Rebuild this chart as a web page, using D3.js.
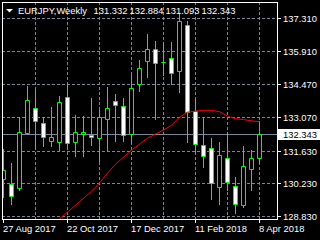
<!DOCTYPE html>
<html>
<head>
<meta charset="utf-8">
<title>EURJPY,Weekly</title>
<script src="https://d3js.org/d3.v7.min.js"></script>
<style>
  html, body { margin: 0; padding: 0; background: #000; overflow: hidden; }
  svg { display: block; }
  text { font-family: "Liberation Sans", Arial, sans-serif; font-size: 9.4px; fill: #fff; }
</style>
</head>
<body>
<svg width="320" height="240"></svg>
<script>

// weekly bars, EURJPY
var weeks = ["2017-08-27","2017-09-03","2017-09-10","2017-09-17","2017-09-24","2017-10-01","2017-10-08",
  "2017-10-15","2017-10-22","2017-10-29","2017-11-05","2017-11-12","2017-11-19","2017-11-26","2017-12-03",
  "2017-12-10","2017-12-17","2017-12-24","2017-12-31","2018-01-07","2018-01-14","2018-01-21","2018-01-28",
  "2018-02-04","2018-02-11","2018-02-18","2018-02-25","2018-03-04","2018-03-11","2018-03-18","2018-03-25",
  "2018-04-01","2018-04-08"];

var opens  = [130.415,130.21,130.01,132.385,133.46,132.81,132.04,131.98,133.93,131.98,132.36,132.31,132.15,132.98,133.76,133.54,
              132.34,134.50,135.45,135.98,135.43,135.60,135.02,137.01,133.31,131.87,131.74,130.07,131.31,130.115,129.30,130.84,131.332];
var highs  = [131.70,131.10,133.07,134.41,134.24,133.07,133.50,133.98,134.50,133.16,133.13,133.88,133.38,134.355,134.06,133.88,
              134.91,135.52,136.64,136.34,136.30,136.28,137.52,137.18,133.84,133.07,132.18,131.99,132.43,130.50,131.84,131.67,132.884];
var lows   = [129.64,129.33,129.93,132.35,131.73,131.81,131.84,131.64,131.73,131.41,131.38,131.87,131.17,131.67,132.04,132.03,
              132.00,134.17,134.77,133.00,134.88,134.50,134.12,131.98,131.53,130.93,129.56,129.34,129.96,128.96,129.22,129.96,131.093];
var closes = [130.81,129.67,132.43,133.80,132.90,132.21,132.21,133.73,131.96,132.43,132.44,132.21,133.07,133.46,133.58,132.30,
              134.31,135.17,135.98,135.38,135.43,134.95,137.18,133.28,131.91,131.40,130.24,131.44,130.27,129.36,130.985,131.31,132.343];

// red moving average (null where it is not drawn)
var ma = [null,null,null,null,null,null,128.42,128.72,129.02,129.31,129.61,129.91,130.26,130.69,131.07,131.37,
          131.67,131.93,132.18,132.36,132.53,132.74,133.08,133.30,133.34,133.38,133.38,133.32,133.13,133.02,132.98,132.93,132.88];

var priceTicks = [137.310, 135.910, 134.470, 133.070, 131.630, 130.230, 128.830];
var timeLabels = ["2017-08-27","2017-10-22","2017-12-17","2018-02-11","2018-04-08"];
var gridWeeks = ["2017-09-24","2017-10-22","2017-11-19","2017-12-17","2018-01-14","2018-02-11","2018-03-11","2018-04-08"];

var parse = d3.timeParse("%Y-%m-%d");
var fmtDate = d3.timeFormat("%-d %b %Y");

var bars = weeks.map(function(w, i) {
  return {date: parse(w), o: opens[i], h: highs[i], l: lows[i], c: closes[i], ma: ma[i]};
});
var last = bars[bars.length - 1];

var svg = d3.select("svg");
var pLeft = 2, pTop = 2, pRight = 277, pBottom = 219;

var x = d3.scaleTime()
    .domain([parse(weeks[0]), parse(weeks[weeks.length - 1])])
    .range([3, 259]);
var y = d3.scaleLinear()
    .domain([128.83, 137.31])
    .range([216, 18]);

function px(v) { return Math.round(v) + 0.5; }

svg.append("rect").attr("width", 320).attr("height", 240).attr("fill", "#000");

svg.append("defs").append("clipPath").attr("id", "plot")
  .append("rect").attr("x", pLeft + 1).attr("y", pTop + 1)
  .attr("width", pRight - pLeft - 1).attr("height", pBottom - pTop - 1);

var plot = svg.append("g").attr("clip-path", "url(#plot)");

// grid
plot.selectAll(".hgrid").data(priceTicks).enter().append("line")
    .attr("x1", pLeft).attr("x2", pRight)
    .attr("y1", function(d) { return px(y(d)); })
    .attr("y2", function(d) { return px(y(d)); })
    .attr("stroke", "#778899").attr("stroke-dasharray", "3,2");

plot.selectAll(".vgrid").data(gridWeeks).enter().append("line")
    .attr("x1", function(d) { return px(x(parse(d))); })
    .attr("x2", function(d) { return px(x(parse(d))); })
    .attr("y1", pTop).attr("y2", pBottom)
    .attr("stroke", "#778899").attr("stroke-dasharray", "3,2");

// bid line
plot.append("line")
    .attr("x1", pLeft).attr("x2", pRight)
    .attr("y1", px(y(last.c))).attr("y2", px(y(last.c)))
    .attr("stroke", "#778899");

// candles
var candle = plot.selectAll(".candle").data(bars).enter().append("g");

candle.append("line")
    .attr("x1", function(d) { return px(x(d.date)); })
    .attr("x2", function(d) { return px(x(d.date)); })
    .attr("y1", function(d) { return Math.round(y(d.h)); })
    .attr("y2", function(d) { return Math.round(y(d.l)) + 1; })
    .attr("stroke", "#00ff00");

candle.append("path")
    .attr("d", function(d) {
      var cx = Math.round(x(d.date)),
          y0 = px(y(Math.max(d.o, d.c))),
          y1 = px(y(Math.min(d.o, d.c)));
      return "M" + (cx - 1.5) + "," + y0 + "H" + (cx + 2.5) + "V" + y1 + "H" + (cx - 1.5) + "Z";
    })
    .attr("fill", function(d) { return d.c < d.o ? "#fff" : "#000"; })
    .attr("stroke", "#00ff00");

// moving average
plot.append("path")
    .datum(bars)
    .attr("fill", "none")
    .attr("stroke", "#ff0000")
    .attr("d", d3.line()
      .defined(function(d) { return d.ma != null; })
      .x(function(d) { return x(d.date) + 0.5; })
      .y(function(d) { return y(d.ma) + 0.5; }));

// frame
svg.append("rect")
    .attr("x", pLeft + 0.5).attr("y", pTop + 0.5)
    .attr("width", pRight - pLeft).attr("height", pBottom - pTop)
    .attr("fill", "none").attr("stroke", "#fff");

// price axis
var pa = svg.selectAll(".ptick").data(priceTicks).enter().append("g");
pa.append("line")
    .attr("x1", pRight).attr("x2", pRight + 4)
    .attr("y1", function(d) { return px(y(d)); })
    .attr("y2", function(d) { return px(y(d)); })
    .attr("stroke", "#fff");
pa.append("text")
    .attr("x", 283)
    .attr("y", function(d) { return Math.round(y(d)) + 4; })
    .text(function(d) { return d.toFixed(3); });

svg.append("rect")
    .attr("x", 278).attr("y", Math.round(y(last.c)) - 5)
    .attr("width", 42).attr("height", 11)
    .attr("fill", "#fff");
svg.append("text")
    .attr("x", 283).attr("y", Math.round(y(last.c)) + 4)
    .style("fill", "#000")
    .text(last.c.toFixed(3));

// time axis
var ta = svg.selectAll(".ttick").data(timeLabels).enter().append("g");
ta.append("line")
    .attr("x1", function(d) { return px(x(parse(d))); })
    .attr("x2", function(d) { return px(x(parse(d))); })
    .attr("y1", pBottom).attr("y2", pBottom + 4)
    .attr("stroke", "#fff");
ta.append("text")
    .attr("x", function(d) { return Math.round(x(parse(d))); })
    .attr("y", 232)
    .text(function(d) { return fmtDate(parse(d)); });

// header
svg.append("path")
    .attr("d", "M6,9H13L9.5,12.5Z")
    .attr("fill", "#fff");
svg.append("text").attr("x", 18).attr("y", 14).text("EURJPY,Weekly");
svg.selectAll(".ohlc").data([last.o, last.h, last.l, last.c]).enter().append("text")
    .attr("x", function(d, i) { return 93.5 + i * 36; })
    .attr("y", 14)
    .text(function(d) { return d.toFixed(3); });

</script>
</body>
</html>
